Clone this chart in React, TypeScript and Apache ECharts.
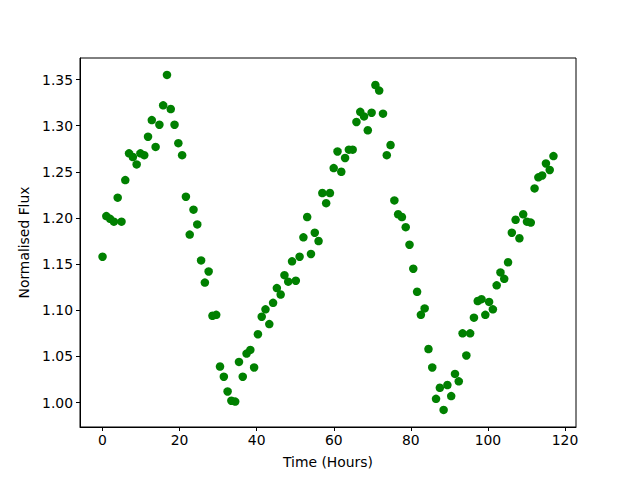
import React, { useEffect, useRef } from "react";
import * as echarts from "echarts";

// Time (hours) of each sample
const timeHours: number[] = [
  0, 0.98, 1.97, 2.95, 3.93, 4.92, 5.9, 6.88, 7.87, 8.85,
  9.83, 10.82, 11.8, 12.78, 13.77, 14.75, 15.73, 16.72, 17.7, 18.68,
  19.67, 20.65, 21.63, 22.62, 23.6, 24.58, 25.57, 26.55, 27.53, 28.52,
  29.5, 30.48, 31.47, 32.45, 33.43, 34.42, 35.4, 36.38, 37.37, 38.35,
  39.33, 40.32, 41.3, 42.28, 43.27, 44.25, 45.23, 46.22, 47.2, 48.18,
  49.17, 50.15, 51.13, 52.12, 53.1, 54.08, 55.07, 56.05, 57.03, 58.02,
  59, 59.98, 60.97, 61.95, 62.93, 63.92, 64.9, 65.88, 66.87, 67.85,
  68.83, 69.82, 70.8, 71.78, 72.77, 73.75, 74.73, 75.72, 76.7, 77.68,
  78.67, 79.65, 80.63, 81.62, 82.6, 83.58, 84.57, 85.55, 86.53, 87.52,
  88.5, 89.48, 90.47, 91.45, 92.43, 93.42, 94.4, 95.38, 96.37, 97.35,
  98.33, 99.32, 100.3, 101.28, 102.27, 103.25, 104.23, 105.22, 106.2, 107.18,
  108.17, 109.15, 110.13, 111.12, 112.1, 113.08, 114.07, 115.05, 116.03, 117.0,
];

// Normalised flux of each sample
const flux: number[] = [
  1.158, 1.202, 1.199, 1.196, 1.222, 1.196, 1.241, 1.270, 1.266, 1.258,
  1.270, 1.268, 1.288, 1.306, 1.277, 1.301, 1.322, 1.355, 1.318, 1.301,
  1.281, 1.268, 1.223, 1.182, 1.209, 1.193, 1.154, 1.130, 1.142, 1.094,
  1.095, 1.039, 1.028, 1.012, 1.002, 1.001, 1.044, 1.028, 1.053, 1.057,
  1.038, 1.074, 1.093, 1.101, 1.085, 1.108, 1.124, 1.117, 1.138, 1.131,
  1.153, 1.132, 1.158, 1.179, 1.201, 1.161, 1.184, 1.175, 1.227, 1.216,
  1.227, 1.254, 1.272, 1.250, 1.265, 1.274, 1.274, 1.304, 1.315, 1.310,
  1.295, 1.314, 1.344, 1.338, 1.313, 1.268, 1.279, 1.219, 1.204, 1.201,
  1.190, 1.171, 1.145, 1.120, 1.095, 1.102, 1.058, 1.038, 1.004, 1.016,
  0.992, 1.019, 1.007, 1.031, 1.023, 1.075, 1.051, 1.075, 1.092, 1.110,
  1.112, 1.095, 1.109, 1.101, 1.127, 1.141, 1.134, 1.152, 1.184, 1.198,
  1.178, 1.204, 1.196, 1.195, 1.232, 1.244, 1.246, 1.259, 1.252, 1.267,
];

const xTicks: number[] = [0, 20, 40, 60, 80, 100, 120];
const yTicks: number[] = [1.0, 1.05, 1.1, 1.15, 1.2, 1.25, 1.3, 1.35];

const X_MIN = -5.85;
const X_MAX = 122.85;
const Y_MIN = 0.9735;
const Y_MAX = 1.3733;

const FONT = "DejaVu Sans";
const FS = 13.9;

export default function App() {
  const ref = useRef<HTMLDivElement>(null);

  useEffect(() => {
    if (!ref.current) return;
    const chart = echarts.init(ref.current, undefined, { renderer: "svg" });
    const points = timeHours.map((t, i) => [t, flux[i]]);
    chart.setOption({
      animation: false,
      backgroundColor: "#ffffff",
      grid: {
        left: 80,
        right: 64,
        top: 58,
        bottom: 53,
        show: true,
        borderColor: "#000000",
        borderWidth: 1,
        backgroundColor: "transparent",
      },
      xAxis: {
        type: "value",
        min: X_MIN,
        max: X_MAX,
        name: "Time (Hours)",
        nameLocation: "middle",
        nameGap: 28,
        nameTextStyle: { color: "#000", fontFamily: FONT, fontSize: FS },
        axisLine: { show: true, onZero: false, lineStyle: { color: "#000", width: 1 } },
        axisTick: {
          show: true,
          inside: false,
          length: 4,
          lineStyle: { color: "#000", width: 1 },
          customValues: xTicks,
        },
        axisLabel: {
          show: true,
          color: "#000",
          fontFamily: FONT,
          fontSize: FS,
          margin: 6,
          customValues: xTicks,
          formatter: (v: number) => String(v),
        },
        splitLine: { show: false },
      },
      yAxis: {
        type: "value",
        min: Y_MIN,
        max: Y_MAX,
        name: "Normalised Flux",
        nameLocation: "middle",
        nameGap: 48,
        nameTextStyle: { color: "#000", fontFamily: FONT, fontSize: FS },
        axisLine: { show: true, onZero: false, lineStyle: { color: "#000", width: 1 } },
        axisTick: {
          show: true,
          inside: false,
          length: 4,
          lineStyle: { color: "#000", width: 1 },
          customValues: yTicks,
        },
        axisLabel: {
          show: true,
          color: "#000",
          fontFamily: FONT,
          fontSize: FS,
          margin: 7,
          customValues: yTicks,
          formatter: (v: number) => v.toFixed(2),
        },
        splitLine: { show: false },
      },
      series: [
        {
          type: "scatter",
          data: points,
          symbol: "circle",
          symbolSize: 8.5,
          itemStyle: { color: "#008000", opacity: 1 },
          emphasis: { disabled: true },
        },
      ],
    });
    return () => chart.dispose();
  }, []);

  return <div ref={ref} style={{ width: 640, height: 480, position: "absolute", left: 0, top: 0 }} />;
}
